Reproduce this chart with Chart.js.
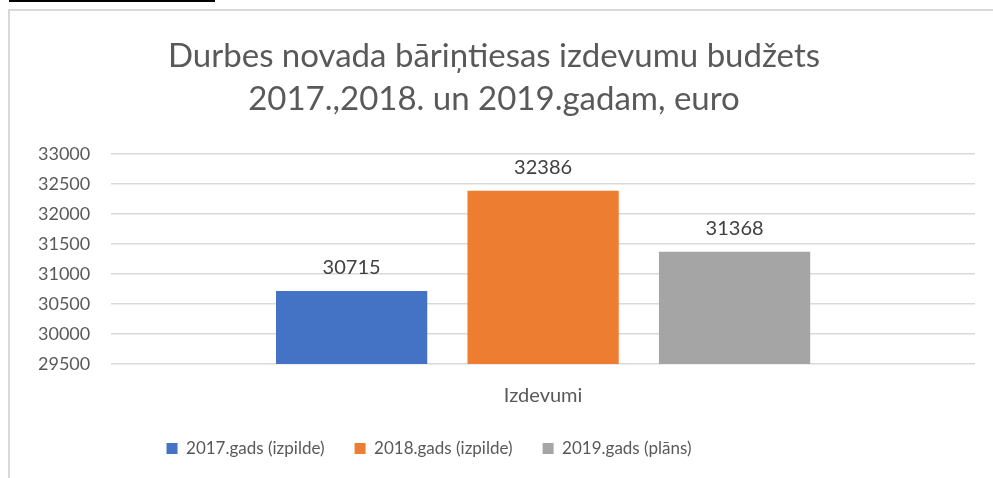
<!DOCTYPE html>
<html>
<head>
<meta charset="utf-8">
<script src="https://cdn.jsdelivr.net/npm/chart.js@4"></script>
<style>
    body { margin: 0; overflow: hidden; background: #fff; }
    #topLine { position: absolute; left: 9px; top: 0; width: 206px; height: 2px; background: #000; }
    #box { position: absolute; left: 8px; top: 9px; width: 990px; height: 480px;
           border-left: 2px solid #d9d9d9; border-top: 2px solid #d9d9d9; }
</style>
</head>
<body>
<div id="topLine"></div>
<div id="box"><canvas id="myChart"></canvas></div>
<script>
// Budget chart
const categories = ['Izdevumi'];
const seriesNames = ['2017.gads (izpilde)', '2018.gads (izpilde)', '2019.gads (plāns)'];
const values2017 = [30715];
const values2018 = [32386];
const values2019 = [31368];
const titleLines = ['Durbes novada bāriņtiesas izdevumu budžets', '2017.,2018. un 2019.gadam, euro'];

const fontName = 'Lato';

// labels above the bars
const valueLabels = {
    id: 'valueLabels',
    afterDatasetsDraw(chart) {
        const ctx = chart.ctx;
        ctx.save();
        ctx.font = '20px ' + fontName;
        ctx.fillStyle = '#404040';
        ctx.textAlign = 'center';
        ctx.textBaseline = 'alphabetic';
        chart.data.datasets.forEach((ds, i) => {
            chart.getDatasetMeta(i).data.forEach((bar, j) => {
                ctx.fillText(ds.data[j], bar.x, bar.y - 17);
            });
        });
        ctx.restore();
    }
};

// in the original the legend and title are not centred on the plot
function moveBox(box, centre) {
    const shift = (box.left + box.right) / 2 - centre;
    box.left -= shift;
    box.right -= shift;
}
const boxShift = {
    id: 'boxShift',
    afterLayout(chart) {
        moveBox(chart.legend, 419);
        moveBox(chart.titleBlock, 484);
    }
};

const data = {
    labels: categories,
    datasets: [{
        label: seriesNames[0],
        backgroundColor: '#4472C4',
        data: values2017,
    }, {
        label: seriesNames[1],
        backgroundColor: '#ED7D31',
        data: values2018,
    }, {
        label: seriesNames[2],
        backgroundColor: '#A5A5A5',
        data: values2019,
    }]
};

const config = {
    type: 'bar',
    data: data,
    options: {
        responsive: true,
        maintainAspectRatio: false,
        animation: false,
        categoryPercentage: 0.665,
        barPercentage: 0.79,
        layout: { padding: { left: 7, right: 25, bottom: 24 } },
        plugins: {
            title: {
                display: true,
                text: titleLines,
                color: '#595959',
                font: { family: fontName, size: 33, weight: 'normal', lineHeight: 1.3 },
                padding: { top: 24, bottom: 33 }
            },
            legend: {
                position: 'bottom',
                labels: {
                    boxWidth: 11,
                    boxHeight: 11,
                    padding: 30,
                    color: '#595959',
                    font: { family: fontName, size: 17 }
                }
            },
            tooltip: { enabled: false }
        },
        scales: {
            x: {
                grid: { display: false },
                border: { display: false },
                ticks: { color: '#595959', font: { family: fontName, size: 20 }, padding: 12 },
                afterFit: (axis) => { axis.height = 46; }
            },
            y: {
                min: 29500,
                max: 33000,
                ticks: {
                    stepSize: 500,
                    autoSkip: false,
                    color: '#595959',
                    font: { family: fontName, size: 18 },
                    padding: 21,
                    callback: (v) => String(v)
                },
                grid: { color: '#d9d9d9', lineWidth: 1.5, drawTicks: false },
                border: { display: false }
            }
        }
    },
    plugins: [valueLabels, boxShift]
};

const myChart = new Chart(document.getElementById('myChart'), config);
</script>
</body>
</html>
